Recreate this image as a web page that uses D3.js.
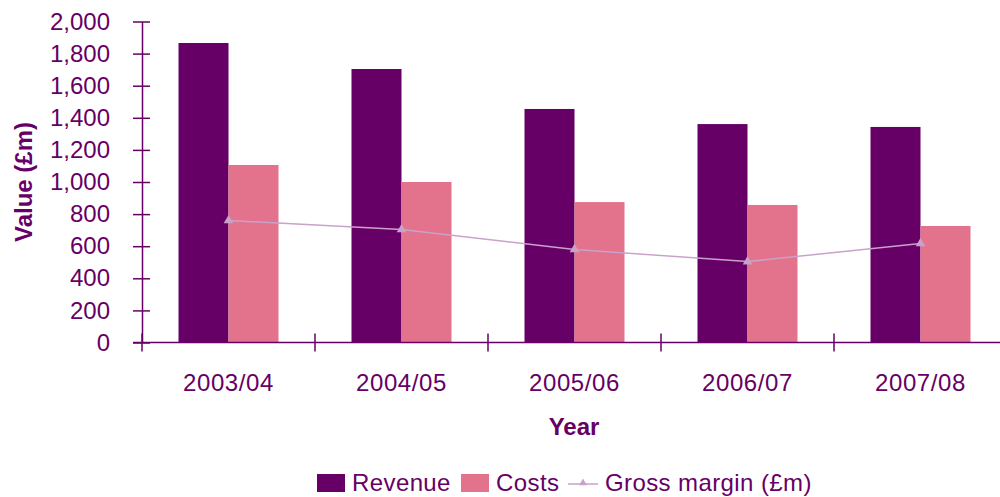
<!DOCTYPE html>
<html>
<head>
<meta charset="utf-8">
<script src="https://cdn.jsdelivr.net/npm/d3@7"></script>
<style>
  body { margin: 0; background: #fff; }
  svg { display: block; font-family: "Liberation Sans", Arial, sans-serif; }
</style>
</head>
<body>
<svg id="chart" width="1000" height="497"></svg>
<script>
// data
const years = ["2003/04", "2004/05", "2005/06", "2006/07", "2007/08"];
const revenue = [1866, 1704, 1455, 1361, 1343];
const costs = [1106, 1000, 875, 857, 726];
const grossMargin = [760, 704, 580, 504, 617];
const yTicks = [0, 200, 400, 600, 800, 1000, 1200, 1400, 1600, 1800, 2000];

const purple = "#660066",
      pink = "#E3738D",
      lilac = "#C9A2C9";

const svg = d3.select("#chart");

const x = d3.scaleBand().domain(years).range([142, 1007]).padding(0);
const y = d3.scaleLinear().domain([0, 2000]).range([342.5, 21.5]);
const barW = 50;

// y axis
const yAxis = svg.append("g")
  .attr("transform", "translate(142,0)")
  .call(d3.axisLeft(y).tickValues(yTicks).tickFormat(d3.format(",")).tickSize(9).tickSizeOuter(0).tickPadding(23));
yAxis.select(".domain").attr("stroke", purple).attr("stroke-width", 1.5);
yAxis.selectAll(".tick line").attr("x1", 8).attr("stroke", purple).attr("stroke-width", 1.5);
yAxis.selectAll(".tick text")
  .attr("fill", purple)
  .attr("font-size", "24px")
  .attr("font-family", "Liberation Sans, Arial, sans-serif");

// bars
svg.append("g").selectAll("rect.rev")
  .data(years)
  .join("rect")
  .attr("class", "rev")
  .attr("x", (d) => x(d) + x.bandwidth() / 2 - barW)
  .attr("y", (d, i) => y(revenue[i]))
  .attr("width", barW)
  .attr("height", (d, i) => y(0) - y(revenue[i]))
  .attr("fill", purple);

svg.append("g").selectAll("rect.cost")
  .data(years)
  .join("rect")
  .attr("class", "cost")
  .attr("x", (d) => x(d) + x.bandwidth() / 2)
  .attr("y", (d, i) => y(costs[i]))
  .attr("width", barW)
  .attr("height", (d, i) => y(0) - y(costs[i]))
  .attr("fill", pink);

// x axis
const xAxis = svg.append("g")
  .attr("transform", `translate(0,${y(0)})`)
  .call(d3.axisBottom(x).tickSize(0).tickSizeOuter(0).tickPadding(31));
xAxis.select(".domain").remove();
xAxis.append("line")
  .attr("x1", 133).attr("x2", 1007)
  .attr("stroke", purple).attr("stroke-width", 1.5);
xAxis.selectAll(".bound")
  .data(years.map(d => x(d)).concat([x.range()[1]]))
  .join("line")
  .attr("class", "bound")
  .attr("x1", d => d).attr("x2", d => d)
  .attr("y1", -9).attr("y2", 9)
  .attr("stroke", purple).attr("stroke-width", 1.5);
xAxis.selectAll(".tick text")
  .attr("fill", purple)
  .attr("font-size", "24px")
  .attr("letter-spacing", "0.6px")
  .attr("font-family", "Liberation Sans, Arial, sans-serif");

// gross margin line
const line = d3.line()
  .x((d, i) => x(years[i]) + x.bandwidth() / 2)
  .y(d => y(d));
svg.append("path")
  .datum(grossMargin)
  .attr("d", line)
  .attr("fill", "none")
  .attr("stroke", lilac)
  .attr("stroke-width", 1.5);
const tri = d3.symbol().type(d3.symbolTriangle).size(40);
svg.append("g").selectAll("path")
  .data(grossMargin)
  .join("path")
  .attr("d", tri)
  .attr("transform", (d, i) => `translate(${x(years[i]) + x.bandwidth() / 2},${y(d)})`)
  .attr("fill", lilac);

// axis titles
svg.append("text")
  .attr("transform", "translate(32,182) rotate(-90)")
  .attr("text-anchor", "middle")
  .attr("font-size", "24px")
  .attr("font-weight", "bold")
  .attr("fill", purple)
  .text("Value (£m)");

svg.append("text")
  .attr("x", 574)
  .attr("y", 435)
  .attr("text-anchor", "middle")
  .attr("font-size", "24px")
  .attr("font-weight", "bold")
  .attr("fill", purple)
  .text("Year");

// legend (nudged up a little so descenders stay inside the frame)
const legend = svg.append("g").attr("font-size", "24px").attr("letter-spacing", "0.4px").attr("fill", purple);
legend.append("rect").attr("x", 317).attr("y", 474).attr("width", 28).attr("height", 18).attr("fill", purple);
legend.append("text").attr("x", 352).attr("y", 491).text("Revenue");
legend.append("rect").attr("x", 461).attr("y", 474).attr("width", 28).attr("height", 18).attr("fill", pink);
legend.append("text").attr("x", 496).attr("y", 491).text("Costs");
legend.append("line").attr("x1", 568).attr("x2", 598).attr("y1", 484).attr("y2", 484)
  .attr("stroke", lilac).attr("stroke-width", 1.5);
legend.append("path").attr("d", d3.symbol().type(d3.symbolTriangle).size(25)).attr("transform", "translate(583,483)").attr("fill", lilac);
legend.append("text").attr("x", 605).attr("y", 491).text("Gross margin (£m)");
</script>
</body>
</html>
